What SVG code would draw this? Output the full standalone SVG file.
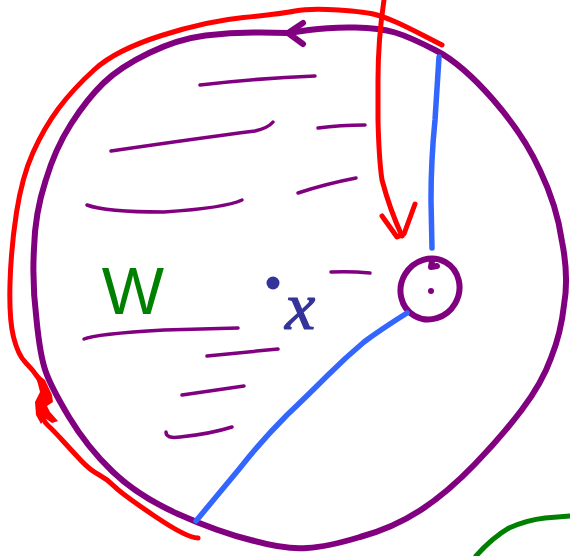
<svg xmlns="http://www.w3.org/2000/svg" width="570" height="556" viewBox="0 0 570 556">
<style>
.s{fill:none;stroke-linecap:round;stroke-linejoin:round}
.pu{stroke:#800080;stroke-width:6}
.ha{stroke:#800080;stroke-width:3.5}
.rd{stroke:#ff0000;stroke-width:5}
.bl{stroke:#3366ff;stroke-width:5.5}
.gr{stroke:#008000;stroke-width:5}
</style>
<rect width="570" height="556" fill="#ffffff"/>
<g id="disk">
<path class="s pu" d="M288,33 L309,30 Q330,27 355,27.5 Q380,28 395,32.5 Q410,37 436,50.5 Q462,64 493,99.5 Q524,135 540,170.5 Q557,206 562,241.5 Q569,277 564,305 Q561,333 551,358 Q542,383 522,409.5 Q502,436 474.5,464.5 Q447,493 420,510.5 Q393,528 360,537 Q327,547 307,548 Q287,550 252.5,540.5 Q218,532 178,514 Q138,496 112.5,471.5 Q87,447 69,417 Q51,387 45.5,371 Q40,355 36.5,319.5 Q32,284 34,248.5 Q35,213 45.5,181 Q55,149 71,124 Q87,99 103.5,83 Q120,67 149,53 Q178,39 205.5,35.5 Q233,32 260.5,32.5 L288,33"/>
<path class="s pu" d="M303,23 L288,33 L303,44" stroke-width="4"/>
</g>
<g id="hatching" class="s ha">
<path d="M200,85 Q260,78 315,76"/>
<path d="M111,151 Q200,138 255,131 Q268,128 273,122"/>
<path d="M318,128 Q340,125 365,125"/>
<path d="M87,205 Q105,212 164,212 Q225,208 242,200"/>
<path d="M298,193 Q325,184 356,178"/>
<path d="M331,272 Q350,271 370,273"/>
<path d="M84,339 Q95,334 164,330 L238,328"/>
<path d="M207,356 L278,349"/>
<path d="M182,395 L244,386"/>
<path d="M166,432 Q166,439 180,437 Q210,434 232,427"/>
</g>
<g id="small-circle">
<ellipse class="s pu" cx="430" cy="289" rx="29" ry="31" transform="rotate(30 430 289)"/>
<path class="s pu" d="M432,261 L431,267 L437,266" stroke-width="4"/>
<circle cx="431" cy="291" r="3" fill="#800080"/>
</g>
<g id="point-x">
<circle cx="273" cy="283" r="6.5" fill="#333399"/>
<text x="300" y="329" font-family="Liberation Serif, serif" font-style="italic" font-size="68" fill="#333399" stroke="#333399" stroke-width="1.2" text-anchor="middle">x</text>
</g>
<g id="label-W">
<text x="133" y="314" font-family="Liberation Sans, sans-serif" font-size="66" fill="#008000" text-anchor="middle">W</text>
</g>
<g id="connectors">
<path class="s rd" d="M442,45 L424.5,36 Q407,27 397,22.5 Q387,18 377,15 Q367,12 338.5,10 Q310,8 295,11 Q280,14 243.5,17.5 Q207,21 161.5,35.5 Q116,50 94.5,69.5 Q73,89 58.5,108.5 Q44,128 33,152.5 Q22,177 16.5,212.5 Q11,248 10,283.5 Q9,319 13.5,337 Q18,355 25.5,362.5 Q33,370 38,377.5 Q43,385 43.5,395 Q44,405 43,412.5 Q42,420 47.5,425 Q53,430 63,441 Q73,452 81.5,461 Q90,470 98.5,474.5 Q107,479 114.5,486.5 Q122,494 154.5,516 Q187,538 198,538"/>
<path d="M35,372 L45,380 L52,395 L53,402 L47,406 L50,412 L58,421 L52,423 L45,418 L41,424 L36,415 L35,402 L40,392 Z" fill="#ff0000"/>
<path class="s rd" d="M384,0 Q378,40 378,80 L378,120 Q379,160 382,180 Q390,210 402,236"/>
<path class="s rd" d="M382,216 L397,237 L404,234 L415,204"/>
<path class="s bl" d="M439,57 Q437,90 435,120 Q431,160 431,200 L432,248"/>
<path class="s bl" d="M407,313 Q380,330 364,342 Q345,358 327,376 Q305,398 287,415 Q262,440 240,468 L196,521"/>
<path class="s gr" d="M476,556 Q492,538 509,528 Q527,520 545,518 L570,516"/>
</g>
</svg>
